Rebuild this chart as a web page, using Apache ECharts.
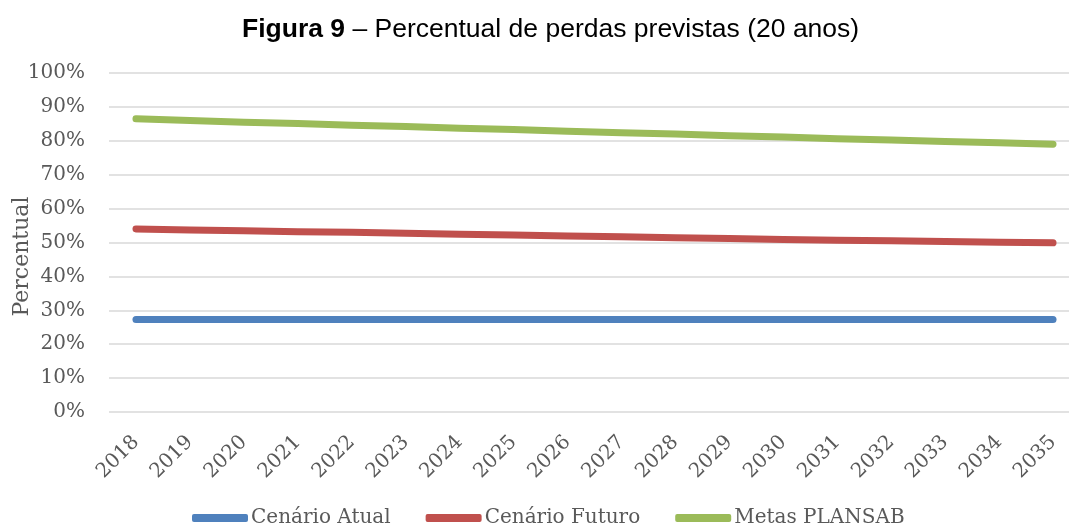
<!DOCTYPE html>
<html>
<head>
<meta charset="utf-8">
<script src="https://cdn.jsdelivr.net/npm/echarts@6/dist/echarts.min.js"></script>
<style>
  html, body { margin: 0; padding: 0; background: #fff; }
  #chart { width: 1069px; height: 527px; }
</style>
</head>
<body>
<div id="chart"></div>
<script>
// values (percent)
const years = ['2018', '2019', '2020', '2021', '2022', '2023', '2024', '2025', '2026',
  '2027', '2028', '2029', '2030', '2031', '2032', '2033', '2034', '2035'];
const cenarioAtual = [27.3, 27.3, 27.3, 27.3, 27.3, 27.3, 27.3, 27.3, 27.3,
  27.3, 27.3, 27.3, 27.3, 27.3, 27.3, 27.3, 27.3, 27.3];
const cenarioFuturo = [54.0, 53.7, 53.5, 53.2, 53.0, 52.7, 52.4, 52.2, 51.9,
  51.7, 51.4, 51.2, 50.9, 50.7, 50.5, 50.3, 50.1, 49.9];
const metasPlansab = [86.5, 86.0, 85.5, 85.1, 84.6, 84.2, 83.7, 83.3, 82.8,
  82.4, 82.0, 81.5, 81.1, 80.6, 80.2, 79.8, 79.4, 79.0];
const yTicks = [0, 10, 20, 30, 40, 50, 60, 70, 80, 90, 100];

const serif = '"DejaVu Serif", serif';
const grey = '#595959';

const chart = echarts.init(document.getElementById('chart'));

function line(name, data, color) {
  return {
    name: name,
    type: 'line',
    data: data,
    symbol: 'none',
    smooth: false,
    animation: false,
    lineStyle: { color: color, width: 7, cap: 'round', join: 'round' },
    itemStyle: { color: color }
  };
}

chart.setOption({
  animation: false,
  title: {
    text: '{b|Figura 9} – Percentual de perdas previstas (20 anos)',
    left: 237,
    top: 11,
    textStyle: {
      fontFamily: 'Arial, "Liberation Sans", sans-serif',
      fontSize: 26.5,
      fontWeight: 'normal',
      color: '#000',
      rich: {
        b: { fontFamily: 'Arial, "Liberation Sans", sans-serif', fontSize: 26.5, fontWeight: 'bold', color: '#000' }
      }
    }
  },
  grid: { left: 109, top: 73, width: 971, height: 339, outerBoundsMode: 'none', containLabel: false },
  legend: {
    bottom: -6,
    left: 187,
    itemWidth: 56,
    itemHeight: 8,
    itemGap: 35,
    icon: 'roundRect',
    textStyle: { fontFamily: serif, fontSize: 20, color: grey, padding: [0, 0, 0, -2] },
    data: ['Cenário Atual', 'Cenário Futuro', 'Metas PLANSAB']
  },
  xAxis: {
    type: 'category',
    data: years,
    boundaryGap: true,
    axisLine: { show: false },
    axisTick: { show: false },
    axisLabel: { rotate: 45, margin: 27, fontFamily: serif, fontSize: 20, color: grey, interval: 0 }
  },
  yAxis: {
    type: 'value',
    min: yTicks[0],
    max: yTicks[yTicks.length - 1],
    interval: 10,
    name: 'Percentual',
    nameLocation: 'middle',
    nameGap: 76,
    nameMoveOverlap: false,
    nameTextStyle: { fontFamily: serif, fontSize: 22, color: grey, padding: [0, 0, 0, -28] },
    axisLine: { show: false },
    axisTick: { show: false },
    axisLabel: {
      margin: 24,
      fontFamily: serif,
      fontSize: 20,
      color: grey,
      formatter: v => v + '%'
    },
    splitLine: { lineStyle: { color: '#d9d9d9', width: 1.5 } }
  },
  series: [
    line('Cenário Atual', cenarioAtual, '#4F81BD'),
    line('Cenário Futuro', cenarioFuturo, '#C0504D'),
    line('Metas PLANSAB', metasPlansab, '#9BBB59')
  ]
});
</script>
</body>
</html>
